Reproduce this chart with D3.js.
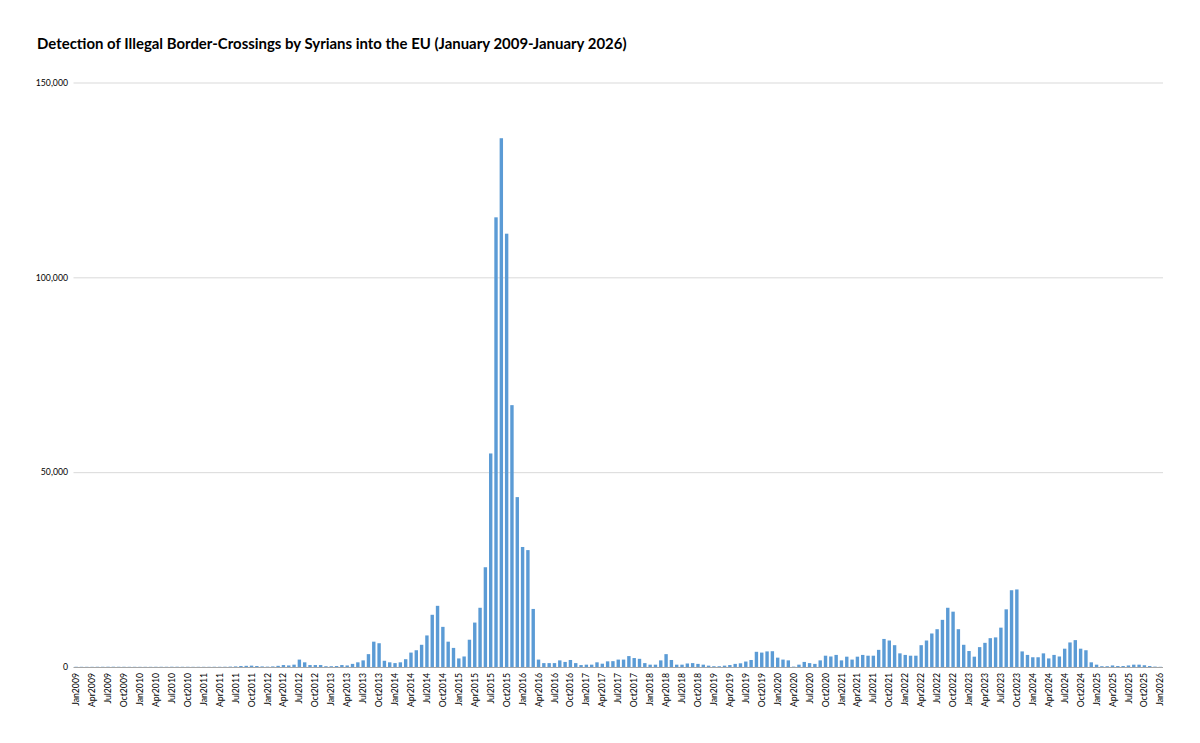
<!DOCTYPE html>
<html><head><meta charset="utf-8">
<script src="https://d3js.org/d3.v7.min.js"></script>
<style>
html,body{margin:0;padding:0;background:#fff}
svg{display:block}
text{font-family:Lato,"Open Sans",sans-serif;fill:#000}
</style></head><body><svg id="c" width="1200" height="743"></svg>
<script>
const titleText = "Detection of Illegal Border-Crossings by Syrians into the EU (January 2009-January 2026)";
const monthNames = ["Jan","Feb","Mar","Apr","May","Jun","Jul","Aug","Sep","Oct","Nov","Dec"];
const firstYear = 2009;
const values = [
 // 2009
 60,50,50,50,60,60,70,70,60,60,50,50,
 // 2010
 50,50,50,60,60,60,70,70,60,60,50,50,
 // 2011
 50,50,60,60,70,100,150,250,300,350,250,150,
 // 2012
 100,150,300,500,400,600,1900,1200,500,500,500,200,
 // 2013
 200,250,500,400,800,1200,1700,3300,6500,6100,1600,1200,
 // 2014
 1000,1200,2000,3700,4300,5700,8100,13400,15700,10300,6500,4900,
 // 2015
 2200,2700,7000,11400,15200,25600,54800,115400,135700,111200,67200,43600,
 // 2016
 30800,30000,14900,1900,1000,1000,1000,1700,1300,1800,1000,500,
 // 2017
 600,600,1200,850,1450,1500,1900,1900,2800,2300,2100,1000,
 // 2018
 600,600,1700,3300,1800,600,600,900,1000,800,600,350,
 // 2019
 200,200,350,500,800,950,1400,1800,3900,3700,4000,4050,
 // 2020
 2400,1900,1700,100,600,1300,1000,800,1700,2900,2700,3100,
 // 2021
 1700,2650,1900,2650,3100,2900,2900,4400,7200,6800,5600,3500,
 // 2022
 3100,2900,2900,5600,6800,8600,9700,12100,15200,14200,9700,5700,
 // 2023
 4100,2650,5100,6200,7400,7600,10100,14800,19700,19900,4000,3100,
 // 2024
 2500,2500,3500,2200,3100,2700,4700,6300,6900,4700,4300,1200,
 // 2025
 600,200,200,400,250,250,400,600,600,450,250,100,
 // 2026
 50
];
const categories = values.map((v,i)=>monthNames[i%12]+(firstYear+Math.floor(i/12)));
const yTickValues = [0,50000,100000,150000];

const svg = d3.select("#c");
const x = d3.scaleBand().domain(categories).range([73.5,1163]).paddingInner(0.36).paddingOuter(0.18);
const y = d3.scaleLinear().domain([0,150000]).range([667,82.5]);

svg.append("text").attr("x",37).attr("y",49)
  .style("font-size","14.95px").style("font-weight",700).text(titleText);

const gy = svg.append("g").attr("transform","translate(73.5,0)")
  .call(d3.axisLeft(y).tickValues(yTickValues).tickSize(-1089.5).tickPadding(5.5).tickFormat(d3.format(",")));
gy.select(".domain").remove();
gy.selectAll(".tick line").attr("stroke",d=>d===0?"#a6a6a6":"#d9d9d9").attr("stroke-width",1);
gy.selectAll(".tick text").style("font-size","8.7px");

svg.append("g").selectAll("rect").data(values).join("rect")
  .attr("x",(d,i)=>x(categories[i])).attr("width",x.bandwidth())
  .attr("y",d=>y(d)).attr("height",d=>y(0)-y(d)).attr("fill","#5b9bd5");

const gx = svg.append("g").attr("transform","translate(0,667)")
  .call(d3.axisBottom(x).tickValues(categories.filter((c,i)=>i%3===0)).tickSize(0).tickPadding(0));
gx.select(".domain").remove();
gx.selectAll(".tick text").attr("transform","rotate(-90)")
  .attr("x",-6).attr("y",0).attr("dy","0.35em").attr("text-anchor","end").style("font-size","8.7px");
</script></body></html>
